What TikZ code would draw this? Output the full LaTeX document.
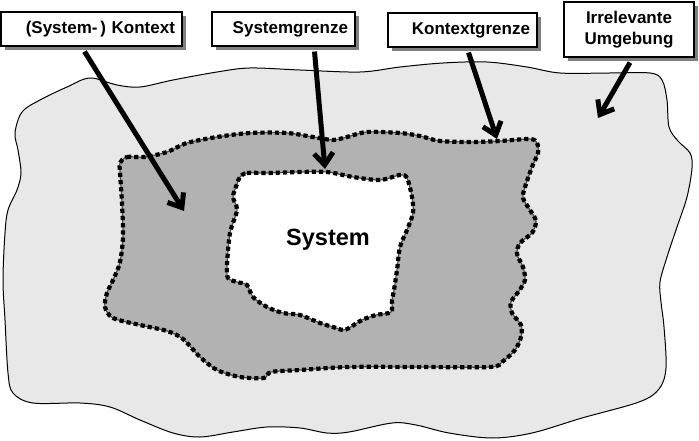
\documentclass[tikz,border=0pt]{standalone}
\usepackage{fontspec}
\setmainfont{Liberation Sans}
\usetikzlibrary{arrows.meta,shadows}
\tikzset{
  lbl/.style={draw=black, line width=1.1pt, fill=white,
    font=\bfseries\fontsize{17}{21}\selectfont,
    general shadow={fill=black!50, draw=none, shadow xshift=4pt, shadow yshift=-4pt},
    inner xsep=7pt, inner ysep=0pt},
  ptr/.style={line width=5pt, -{Straight Barb[length=12pt,width=19pt]}},
  bnd/.style={preaction={draw=black!70, line width=1.2pt},
    draw=black, line width=4.2pt, dash pattern=on 4.2pt off 3pt},
  outerfill/.style={fill=black!9, draw=black, line width=1pt}
}
\begin{document}
\begin{tikzpicture}[x=1pt,y=-1pt]
\useasboundingbox (0,0) rectangle (699,441);
% outer region
\path[outerfill] plot[smooth cycle, tension=0.55] coordinates {
 (22,112) (40,100) (67,87) (90,78) (117,85) (140,87) (173,80) (217,72) (250,68)
 (300,70) (360,72) (400,67) (443,63) (487,62) (527,67) (560,73) (610,73) (650,73)
 (662,80) (667,100) (669,127) (678,141) (690,153) (692,168) (687,197) (677,227)
 (667,257) (660,282) (661,302) (664,327) (666,368) (659,389) (639,402) (582,418)
 (532,433) (492,438) (449,433) (416,425) (392,423) (349,432) (327,433) (300,428)
 (267,427) (233,432) (200,437) (173,433) (140,420) (110,407) (80,403) (33,403)
 (13,393) (8,373) (5,320) (3,280) (5,233) (8,210) (17,190) (21,173) (18,150) (15,133)};
% context region
\path[fill=black!30] plot[smooth cycle, tension=0.5] coordinates {
 (120,163) (127,157) (145,157) (167,152) (187,143) (217,137) (250,133) (287,133)
 (313,137) (333,140) (347,137) (367,132) (400,133) (420,136) (440,141) (473,142)
 (500,141) (530,139) (537,143) (538,153) (532,167) (525,187) (523,198) (530,210)
 (536,221) (532,233) (520,243) (517,254) (523,267) (525,280) (519,291) (511,302)
 (512,313) (521,325) (521,337) (515,350) (502,362) (490,367) (420,367) (349,367)
 (300,370) (271,372) (264,378) (240,377) (217,370) (200,357) (183,339) (167,331)
 (140,325) (113,318) (105,307) (107,293) (114,278) (120,262) (123,237) (122,203) (120,172)};
\draw[bnd] plot[smooth cycle, tension=0.5] coordinates {
 (120,163) (127,157) (145,157) (167,152) (187,143) (217,137) (250,133) (287,133)
 (313,137) (333,140) (347,137) (367,132) (400,133) (420,136) (440,141) (473,142)
 (500,141) (530,139) (537,143) (538,153) (532,167) (525,187) (523,198) (530,210)
 (536,221) (532,233) (520,243) (517,254) (523,267) (525,280) (519,291) (511,302)
 (512,313) (521,325) (521,337) (515,350) (502,362) (490,367) (420,367) (349,367)
 (300,370) (271,372) (264,378) (240,377) (217,370) (200,357) (183,339) (167,331)
 (140,325) (113,318) (105,307) (107,293) (114,278) (120,262) (123,237) (122,203) (120,172)};
% system region
\path[fill=white] plot[smooth cycle, tension=0.5] coordinates {
 (240,177) (247,173) (267,173) (300,172) (327,172) (353,177) (380,180) (400,175)
 (407,178) (412,197) (413,213) (407,230) (400,247) (397,270) (394,290) (392,300)
 (391,312) (376,315) (362,320) (349,328) (343,330) (333,327) (320,323) (300,315)
 (283,313) (267,307) (253,297) (247,285) (237,282) (228,278) (227,265) (230,233)
 (237,210) (233,197) (237,184)};
\draw[bnd] plot[smooth cycle, tension=0.5] coordinates {
 (240,177) (247,173) (267,173) (300,172) (327,172) (353,177) (380,180) (400,175)
 (407,178) (412,197) (413,213) (407,230) (400,247) (397,270) (394,290) (392,300)
 (391,312) (376,315) (362,320) (349,328) (343,330) (333,327) (320,323) (300,315)
 (283,313) (267,307) (253,297) (247,285) (237,282) (228,278) (227,265) (230,233)
 (237,210) (233,197) (237,184)};
\node[font=\bfseries\fontsize{23.5}{26}\selectfont] (sys) at (328,240) {System};
% arrow targets
\coordinate (t1) at (184,211);
\coordinate (t2) at (325,169);
\coordinate (t3) at (497,139);
\coordinate (t4) at (598,118);
% label boxes
\node[lbl, text width=167pt, align=right, minimum height=34pt] (b1) at (91.5,29) {(System-\,) Kontext};
\node[lbl, text width=129pt, align=right, minimum height=34pt] (b2) at (283.5,29) {Systemgrenze};
\node[lbl, text width=135pt, align=right, minimum height=34pt] (b3) at (462.5,30) {Kontextgrenze};
\node[lbl, text width=116pt, align=center, minimum height=55pt] (b4) at (629,29.5) {Irrelevante\\Umgebung};
% arrows
\draw[ptr] ([xshift=-7pt,yshift=-5pt]b1.south) -- (t1);
\draw[ptr] ([xshift=31pt,yshift=-5pt]b2.south) -- (t2);
\draw[ptr] ([xshift=6pt,yshift=-5pt]b3.south) -- (t3);
\draw[ptr] ([xshift=1pt,yshift=-5pt]b4.south) -- (t4);
\end{tikzpicture}
\end{document}
